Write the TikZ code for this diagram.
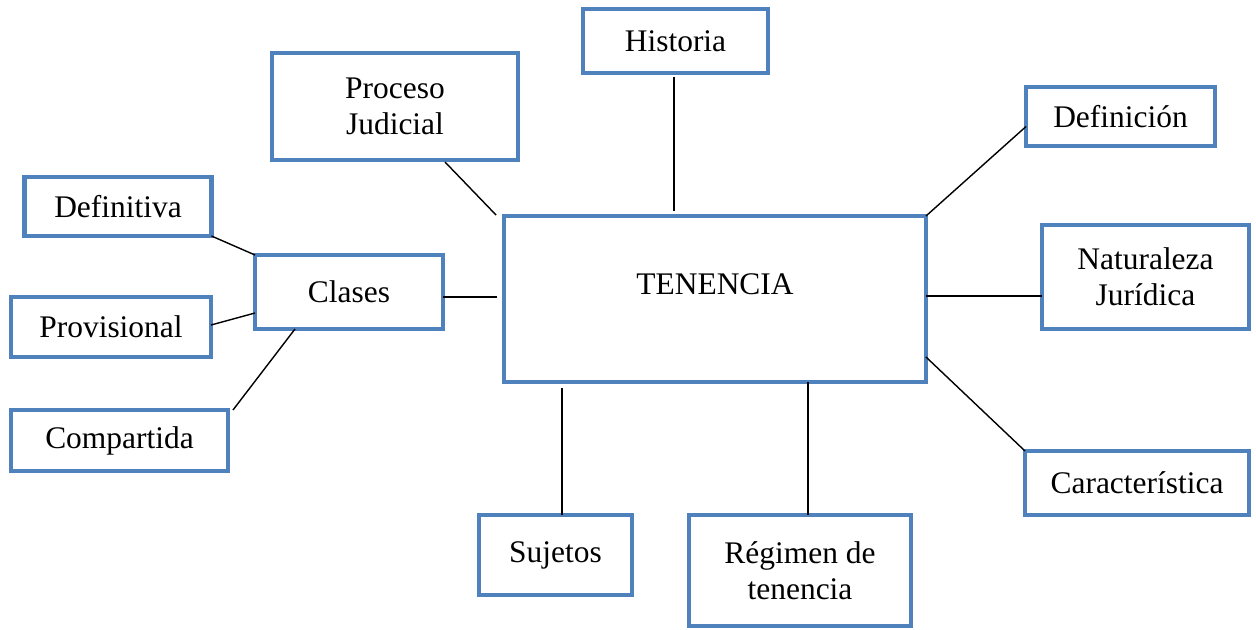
\documentclass[tikz,border=0pt]{standalone}
\usepackage{fontspec}
\setmainfont{Liberation Serif}
\usetikzlibrary{calc}
\definecolor{boxblue}{HTML}{4F81BD}
\tikzset{
every box/.style={font=\fontsize{17.9pt}{20.6pt}\selectfont},
}

\begin{document}
\begin{tikzpicture}[x=0.02cm, y=-0.02cm,
						box/.style={every box, draw=boxblue, line width=2.5pt, rectangle, align=center, inner sep=2pt, outer sep=0pt},
                        link/.style={black, line width=0.8pt},
					]
					\useasboundingbox (0,0) rectangle (1256,629);
					% central node
					\node[box, minimum width=8.44cm, minimum height=3.32cm, text depth=0.58cm] (ten) at (715,299) {TENENCIA};
					% upper and right nodes
					\node[box, minimum width=3.70cm, minimum height=1.28cm] (hist) at (675.5,41) {Historia};
					\node[box, minimum width=4.92cm, minimum height=2.14cm] (proc) at (395,106.5) {Proceso\\Judicial};
					\node[box, minimum width=3.78cm, minimum height=1.18cm] (defi) at (1120.5,116.5) {Definición};
					\node[box, minimum width=4.14cm, minimum height=2.08cm] (nat) at (1145.5,277) {Naturaleza\\Jurídica};
					\node[box, minimum width=4.48cm, minimum height=1.28cm] (car) at (1137,483) {Característica};
					\node[box, minimum width=4.44cm, minimum height=2.22cm] (reg) at (800,570.5) {Régimen de\\tenencia};
					\node[box, minimum width=3.06cm, minimum height=1.60cm] (suj) at (555.5,555) {Sujetos};
					% left nodes
					\node[box, minimum width=3.76cm, minimum height=1.48cm] (clases) at (349,292) {Clases};
					\node[box, minimum width=3.74cm, minimum height=1.18cm] (defv) at (118,206.5) {Definitiva};
					\node[box, minimum width=4.00cm, minimum height=1.20cm] (prov) at (111,327) {Provisional};
					\node[box, minimum width=4.34cm, minimum height=1.22cm] (comp) at (119.5,440.5) {Compartida};
                    % connectors
                    \draw[link, shorten <=2pt, shorten >=0.1cm] ([xshift=-0.03cm]hist.south) coordinate (h1) -- (h1 |- ten.north);
                    \draw[link] ([xshift=1cm, yshift=-0.04cm]proc.south) -- ([xshift=-0.16cm, yshift=0.02cm]ten.north west);
                    \draw[link] (ten.north east) -- ([yshift=-0.2cm]defi.west);
                    \draw[link] ([yshift=0.06cm]ten.east) coordinate (n1) -- (n1 -| nat.west);
                    \draw[link] ([yshift=-1.16cm]ten.east) -- (car.north west);
                    \draw[link] ([xshift=0.16cm]reg.north) coordinate (r1) -- (r1 |- ten.south);
                    \draw[link, shorten >=0.12cm] ([xshift=0.13cm]suj.north) coordinate (s1) -- (s1 |- ten.south);
                    \draw[link, shorten >=0.14cm] ([yshift=-0.1cm]clases.east) coordinate (c1) -- (c1 -| ten.west);
                    \draw[link] (defv.south east) -- (clases.north west);
                    \draw[link] ([yshift=0.04cm]prov.east) -- ([yshift=-0.42cm]clases.west);
                    \draw[link] ([xshift=0.1cm]comp.north east) -- ([xshift=-1.08cm]clases.south);
	\end{tikzpicture}
\end{document}
